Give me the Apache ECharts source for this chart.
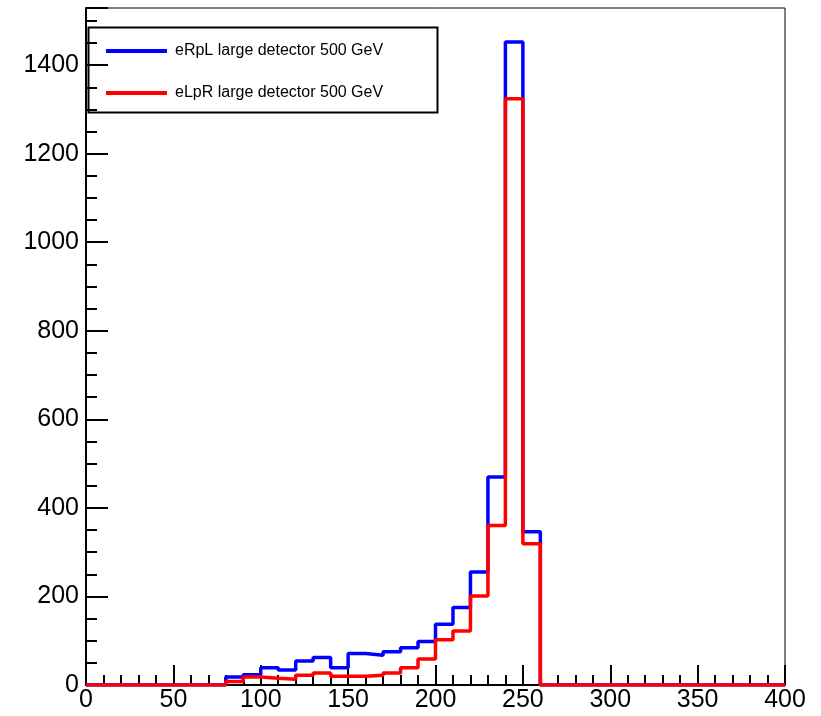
<!DOCTYPE html>
<html>
<head>
<meta charset="utf-8">
<script src="https://cdn.jsdelivr.net/npm/echarts@6/dist/echarts.min.js"></script>
<style>html,body{margin:0;padding:0;background:#fff}#c{width:821px;height:716px}</style>
</head>
<body>
<div id="c"></div>
<script>
const binLow = [0,10,20,30,40,50,60,70,80,90,100,110,120,130,140,150,160,170,180,190,200,210,220,230,240,250,260,270,280,290,300,310,320,330,340,350,360,370,380,390];
const binHigh = 400;
const eRpL = [0,0,0,0,0,0,0,0,18,23,39,34,54,62,39,71,67,75,84,98,137,175,255,470,1452,346,0,0,0,0,0,0,0,0,0,0,0,0,0,0];
const eLpR = [0,0,0,0,0,0,0,0,8,18,15,13,22,27,20,20,22,27,39,59,102,122,201,360,1324,319,0,0,0,0,0,0,0,0,0,0,0,0,0,0];
const seriesNames = ['eRpL large detector 500 GeV','eLpR large detector 500 GeV'];
const xTicks = [0,50,100,150,200,250,300,350,400];
const yMax = 1529;

function toSteps(vals){
  const d = binLow.map((x,i)=>[x, vals[i]]);
  d.push([binHigh, vals[vals.length-1]]);
  return d;
}

const chart = echarts.init(document.getElementById('c'), null, {renderer:'canvas'});
const font = 'Liberation Sans, Arial, Helvetica, sans-serif';
chart.setOption({
  animation:false,
  backgroundColor:'#fff',
  grid:{left:86,right:36,top:8,bottom:31,show:true,borderColor:'#000',borderWidth:1,backgroundColor:'#fff'},
  xAxis:{type:'value',min:xTicks[0],max:xTicks[xTicks.length-1],interval:50,
    axisLine:{onZero:false,lineStyle:{color:'#000',width:2}},
    axisTick:{inside:true,length:20,lineStyle:{color:'#000',width:2}},
    minorTick:{show:true,splitNumber:5,length:10,lineStyle:{color:'#000',width:2}},
    splitLine:{show:false},
    axisLabel:{color:'#000',fontSize:25,fontFamily:font,margin:3,formatter:v=>String(v)}},
  yAxis:{type:'value',min:0,max:yMax,interval:200,
    axisLine:{onZero:false,lineStyle:{color:'#000',width:2}},
    axisTick:{inside:true,length:22,lineStyle:{color:'#000',width:2}},
    minorTick:{show:true,splitNumber:4,length:11,lineStyle:{color:'#000',width:2}},
    splitLine:{show:false},
    axisLabel:{color:'#000',fontSize:25,fontFamily:font,margin:7,showMaxLabel:false,formatter:v=>String(v)}},
  legend:{orient:'vertical',left:101,top:38,itemWidth:61,itemHeight:4,itemGap:26,icon:'rect',
    textStyle:{color:'#000',fontSize:16,fontFamily:font,padding:[0,0,0,3]},
    data:seriesNames},
  graphic:[{type:'rect',left:86,top:25,z:100,shape:{width:349,height:85},
    style:{fill:null,stroke:'#000',lineWidth:2}}],
  series:[
    {name:seriesNames[0],type:'line',step:'end',symbol:'none',data:toSteps(eRpL),
      itemStyle:{color:'#0000ff'},lineStyle:{color:'#0000ff',width:3.5}},
    {name:seriesNames[1],type:'line',step:'end',symbol:'none',data:toSteps(eLpR),
      itemStyle:{color:'#ff0000'},lineStyle:{color:'#ff0000',width:3.5}}
  ]
});
</script>
</body>
</html>
